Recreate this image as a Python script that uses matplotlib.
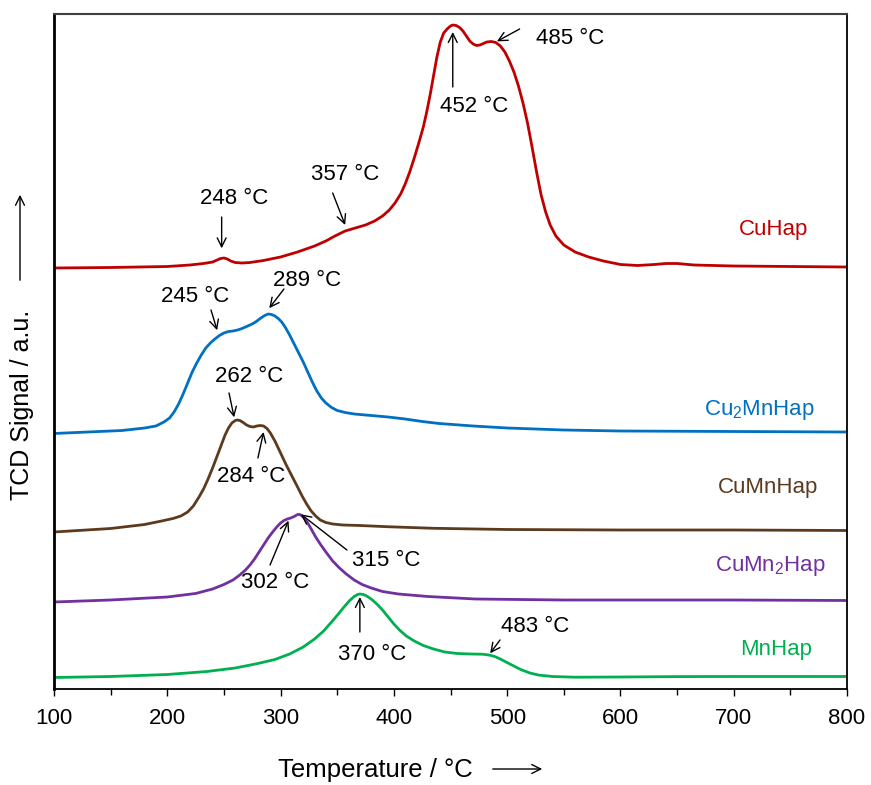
import numpy as np
import matplotlib
matplotlib.use("Agg")
import matplotlib.pyplot as plt
from matplotlib.patches import FancyArrowPatch

plt.rcParams["font.family"] = ["Liberation Sans", "DejaVu Sans"]
plt.rcParams["mathtext.fontset"] = "custom"
plt.rcParams["mathtext.rm"] = "Liberation Sans"

# TPR profiles: temperature (°C) and TCD signal (a.u., stacked with offsets)
t_cu = [100, 150, 200, 220, 232, 240, 244, 247, 250, 253, 256, 260, 266, 273, 285, 300, 315,
        330, 340, 348, 357, 366, 375, 383, 390, 396, 401, 406, 410, 414, 418, 422, 426, 429,
        432, 435, 438, 441, 444, 447, 450, 452, 455, 458, 461, 464, 467, 470, 473, 476, 479,
        482, 486, 490, 494, 498, 502, 506, 510, 514, 518, 522, 526, 530, 534, 538, 543, 550,
        560, 572, 585, 600, 615, 630, 640, 650, 665, 700, 750, 800]
s_cu = [421, 421.5, 422.5, 424, 425.5, 427, 429, 430.5, 431, 430, 428, 426.5, 426, 426.5, 428.5, 432, 437,
        443, 448, 453, 458, 461, 464, 468, 473, 479, 486, 495, 505, 517, 531, 546, 562, 577,
        594, 613, 632, 647, 656, 660, 663, 664, 663.5, 661.5, 658, 653, 648, 645, 643.5, 644, 645.5,
        647, 647.5, 646.5, 643, 637, 628, 617, 603, 586, 566, 542, 517, 494, 477, 464, 453, 444,
        437, 432, 428, 424.5, 423.5, 424.5, 425.5, 425.5, 424, 423, 422.5, 422]

t_cu2mn = [100, 130, 160, 180, 190, 197, 202, 206, 210, 214, 218, 222, 226, 230, 234, 238, 242,
           246, 250, 254, 258, 262, 266, 270, 274, 278, 282, 286, 289, 292, 295, 298, 301, 304,
           308, 312, 316, 320, 324, 328, 332, 336, 340, 345, 350, 357, 365, 380, 395, 410, 425,
           440, 470, 500, 550, 600, 700, 800]
s_cu2mn = [255.5, 257, 258.5, 261, 263, 267, 271, 277, 285, 295, 306, 317, 326, 334, 341, 346, 350,
           353.5, 356, 357.5, 358, 359, 360.5, 362.5, 364.5, 367, 370.5, 373.5, 375, 374.5, 373, 370.5, 367, 362,
           354, 345, 336, 327, 317, 307, 298, 291, 286, 281.5, 278.5, 276.5, 275, 273.5, 272, 270, 267.5,
           265.5, 263, 261, 259, 258, 257.5, 257]

t_cumn = [100, 150, 180, 195, 205, 212, 218, 223, 228, 232, 236, 240, 244, 248, 251, 254, 257,
          260, 262, 264, 267, 270, 273, 276, 279, 282, 285, 288, 291, 295, 300, 305, 310, 315,
          319, 323, 327, 331, 335, 340, 346, 355, 370, 394, 435, 500, 600, 700, 800]
s_cumn = [157, 160.5, 164.5, 168, 170.5, 173, 177, 183, 192, 200, 210, 221, 233, 245, 254, 261, 266,
          268.5, 269, 268.5, 266.5, 264, 262.5, 262, 263, 263.5, 263, 260.5, 256, 248, 236, 224, 213, 202,
          193, 185, 178, 173, 169, 166.5, 165, 164, 163.5, 162.3, 160.7, 159.5, 159, 159, 158.5]

t_cumn2 = [100, 150, 200, 225, 240, 250, 258, 264, 269, 273, 277, 281, 285, 289, 293, 297, 300,
           303, 306, 309, 312, 315, 317, 319, 321, 324, 327, 331, 335, 340, 346, 352, 358, 365,
           372, 380, 390, 404, 430, 472, 550, 630, 700, 800]
s_cumn2 = [87, 89, 92, 95.5, 100, 104.5, 109, 114, 119, 124, 130, 137, 144, 151, 157, 162.5, 166,
           168.5, 170, 171, 172.5, 174.5, 174.5, 173, 170.5, 166, 160, 152, 145, 137, 128, 121, 115, 109,
           104.5, 101, 97.5, 95, 92.5, 90, 89, 89, 89, 88.5]

t_mn = [100, 150, 200, 235, 260, 280, 295, 308, 320, 330, 338, 345, 351, 356, 361, 365, 368,
        370, 373, 376, 380, 385, 390, 395, 400, 405, 411, 418, 426, 435, 445, 456, 468, 478,
        484, 489, 494, 499, 505, 512, 520, 528, 540, 560, 600, 650, 700, 800]
s_mn = [11.5, 12.5, 14.5, 17.5, 21, 25.5, 29.5, 35, 42, 50, 58, 67, 75, 82, 88.5, 92.5, 94.5,
        95, 94.5, 93, 90, 85, 79, 72, 65, 59, 53, 48, 43.5, 40, 37, 35.5, 35, 34.8,
        34, 32.5, 30, 27, 23.5, 19.5, 16, 13.9, 12.5, 11.8, 12, 12.4, 12.5, 12.5]

names = ["CuHap", r"Cu$_\mathregular{2}$MnHap", "CuMnHap", r"CuMn$_\mathregular{2}$Hap", "MnHap"]
colors = ["#C00000", "#0070C0", "#5C3A1E", "#7030A0", "#00B050"]
temps = [t_cu, t_cu2mn, t_cumn, t_cumn2, t_mn]
signals = [s_cu, s_cu2mn, s_cumn, s_cumn2, s_mn]
# sample name positions (T, signal)
name_pos = [(735, 459), (723, 279), (730, 201), (732, 123), (737, 39)]

# peak annotations: curve index, arrow tip T, gap to curve, arrow tail (T, S), text, text centre (T, S)
peaks = [
    (0, 491, 2, (511, 660), "485 °C", (556, 651)),
    (0, 452, -7, (452, 602), "452 °C", (471, 582)),
    (0, 357, 6, (346, 496), "357 °C", (357, 514)),
    (0, 248, 10, (248, 472), "248 °C", (259, 491)),
    (1, 290, 6, (303, 400), "289 °C", (323, 408)),
    (1, 244, 7, (238.6, 379), "245 °C", (224.5, 392)),
    (2, 259, 4, (254.5, 296), "262 °C", (272, 312)),
    (2, 285, -6, (280, 231), "284 °C", (274, 212)),
    (3, 318, 1, (358.6, 139), "315 °C", (393, 128)),
    (3, 307, -2, (290.7, 124), "302 °C", (295, 106)),
    (4, 370, -3, (370, 57), "370 °C", (380.7, 34)),
    (4, 485, 2, (493.7, 49), "483 °C", (524.6, 63)),
]

fig = plt.figure(figsize=(8.71, 7.85), dpi=100)
ax = fig.add_axes([54 / 871, 96 / 785, 793 / 871, 675 / 785])

for name, t, s, color, (lx, ly) in zip(names, temps, signals, colors, name_pos):
    ax.plot(t, s, color=color, lw=2.0, solid_joinstyle="round")
    ax.text(lx, ly, name, color=color, fontsize=16, ha="center", va="center")

for idx, tip_t, gap, tail, label, pos in peaks:
    tip = (tip_t, np.interp(tip_t, temps[idx], signals[idx]) + gap)
    ax.annotate("", xy=tip, xytext=tail,
                arrowprops=dict(arrowstyle="->", color="black", lw=1.0,
                                shrinkA=0, shrinkB=0, mutation_scale=16))
    ax.text(pos[0], pos[1], label, fontsize=16, ha="center", va="center")

ax.set_xlim(100, 800)
ax.set_ylim(0, 675)
ax.set_xticks(np.arange(100, 801, 100))
ax.set_xticks(np.arange(150, 800, 100), minor=True)
ax.set_yticks([])
ax.tick_params(axis="x", which="major", direction="out", length=5, width=1, labelsize=16, pad=9)
ax.tick_params(axis="x", which="minor", direction="out", length=4, width=1)
for side in ["left", "bottom", "right"]:
    ax.spines[side].set_color("black")
    ax.spines[side].set_linewidth(1.3)
ax.spines["left"].set_linewidth(2.0)
ax.spines["top"].set_color("#404040")
ax.spines["top"].set_linewidth(1.5)

# axis titles with direction arrows
fig.text(375 / 871, 1 - 770 / 785, "Temperature / °C", fontsize=18.5, ha="center", va="center")
fig.add_artist(FancyArrowPatch(
    (490 / 871, 1 - 769 / 785), (545 / 871, 1 - 769 / 785), transform=fig.transFigure,
    arrowstyle="->", mutation_scale=16, lw=1.0, color="black"))
fig.text(22 / 871, 1 - 405 / 785, "TCD Signal / a.u.", fontsize=18, rotation=90,
         ha="center", va="center")
fig.add_artist(FancyArrowPatch(
    (20 / 871, 1 - 283 / 785), (20 / 871, 1 - 192 / 785), transform=fig.transFigure,
    arrowstyle="->", mutation_scale=16, lw=1.0, color="black"))

fig.savefig("out.png", dpi=100)
